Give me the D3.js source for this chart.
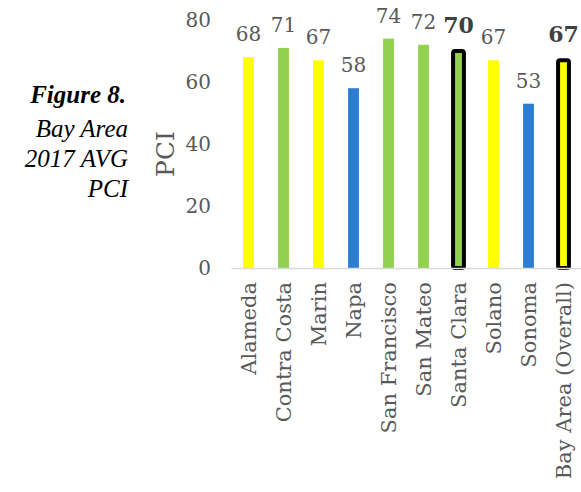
<!DOCTYPE html>
<html>
<head>
<meta charset="utf-8">
<script src="https://cdn.jsdelivr.net/npm/d3@7"></script>
<style>
  body { margin: 0; background: #fff; }
  svg { display: block; }
</style>
</head>
<body>
<svg id="chart"></svg>
<script>
const categories = ["Alameda", "Contra Costa", "Marin", "Napa", "San Francisco",
    "San Mateo", "Santa Clara", "Solano", "Sonoma", "Bay Area (Overall)"];
const pci = [68, 71, 67, 58, 74, 72, 70, 67, 53, 67];
const highlighted = ["Santa Clara", "Bay Area (Overall)"];
const yTicks = [0, 20, 40, 60, 80];
const captionLines = ["Bay Area", "2017 AVG", "PCI"];

const width = 581, height = 492;
const margin = {top: 20, right: 0, bottom: 224, left: 231};
const font = "'DejaVu Serif', serif";
const captionFont = "'Liberation Serif', 'Times New Roman', serif";
const grey = "#595959";

const svg = d3.select('#chart')
    .attr('width', width)
    .attr('height', height)
    .style('font-family', font);

const data = categories.map((name, i) => ({name, value: pci[i], bold: highlighted.includes(name)}));

const x = d3.scaleBand()
    .domain(categories)
    .range([margin.left, width - margin.right])
    .paddingInner(0.69)
    .paddingOuter(0.345);

const y = d3.scaleLinear()
    .domain([0, 80])
    .range([height - margin.bottom, margin.top]);

// PCI condition bands: at-risk / fair / good
const color = d3.scaleThreshold()
    .domain([60, 70])
    .range(['#2b7cd3', '#ffff00', '#92d050']);

// y axis labels only (no line, no ticks)
const yAxis = d3.axisLeft(y).tickValues(yTicks).tickSize(0).tickPadding(0);
svg.append('g')
    .attr('transform', `translate(${margin.left - 20},0)`)
    .call(yAxis)
    .call(g => g.select('.domain').remove())
    .call(g => g.selectAll('text')
        .attr('fill', grey)
        .style('font-family', font)
        .style('font-size', '20px'));

// bars
svg.append('g')
    .selectAll('rect')
    .data(data)
    .join('rect')
    .attr('x', d => x(d.name))
    .attr('width', x.bandwidth())
    .attr('y', d => y(d.value))
    .attr('height', d => y(0) - y(d.value))
    .attr('fill', d => color(d.value))
    .attr('stroke', d => d.bold ? '#000' : 'none')
    .attr('stroke-width', 4)
    .attr('rx', d => d.bold ? 2 : 0);

// baseline
const xAxis = d3.axisBottom(x).tickSize(0).tickPadding(0).tickFormat('');
svg.append('g')
    .attr('transform', `translate(0,${y(0)})`)
    .call(xAxis)
    .call(g => g.select('.domain').attr('stroke', '#d9d9d9').attr('stroke-width', 1.5));

// value labels
svg.append('g')
    .selectAll('text')
    .data(data)
    .join('text')
    .attr('x', d => x(d.name) + x.bandwidth() / 2)
    .attr('y', d => y(d.value) - (d.bold ? 18 : 16))
    .attr('text-anchor', 'middle')
    .attr('fill', d => d.bold ? '#404040' : grey)
    .style('font-size', d => d.bold ? '22px' : '20px')
    .style('font-weight', d => d.bold ? 'bold' : 'normal')
    .text(d => d.value);

// category labels, rotated
svg.append('g')
    .selectAll('text')
    .data(categories)
    .join('text')
    .attr('transform', d => `translate(${x(d) + x.bandwidth() / 2},${y(0) + 14}) rotate(-90)`)
    .attr('text-anchor', 'end')
    .attr('dy', '0.35em')
    .attr('fill', grey)
    .style('font-size', '21px')
    .text(d => d);

// y axis title
svg.append('text')
    .attr('transform', `translate(165,${(y(0) + y(80)) / 2 + 10}) rotate(-90)`)
    .attr('text-anchor', 'middle')
    .attr('dy', '0.35em')
    .attr('fill', grey)
    .style('font-size', '25px')
    .text('PCI');

// figure caption on the left
const caption = svg.append('g')
    .attr('text-anchor', 'end')
    .attr('fill', '#000')
    .style('font-family', captionFont)
    .style('font-style', 'italic');
caption.append('text')
    .attr('x', 126)
    .attr('y', 103)
    .style('font-size', '25px')
    .style('font-weight', 'bold')
    .text('Figure 8.');
caption.selectAll('text.line')
    .data(captionLines)
    .join('text')
    .attr('class', 'line')
    .attr('x', 128)
    .attr('y', (d, i) => 137 + i * 30)
    .style('font-size', '25px')
    .text(d => d);
</script>
</body>
</html>
